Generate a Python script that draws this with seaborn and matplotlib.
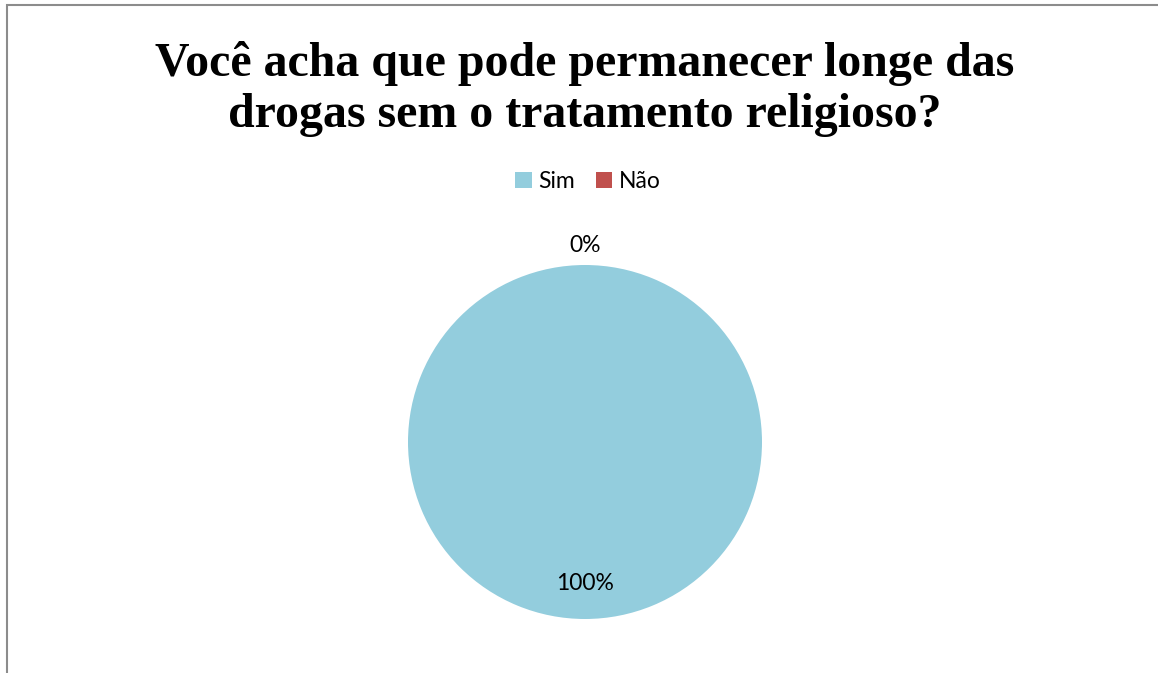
import numpy as np
import matplotlib
matplotlib.use("Agg")
import matplotlib.pyplot as plt
import seaborn as sns
from matplotlib.patches import Rectangle

# data
categories = ["Sim", "Não"]
values = [100, 0]
pct_labels = ["100%", "0%"]
colors = ["#93CDDD", "#C0504D"]
title = "Você acha que pode permanecer longe das\ndrogas sem o tratamento religioso?"

sns.set_theme(style="white")
plt.rcParams["font.family"] = ["Liberation Sans", "DejaVu Sans"]
plt.rcParams["text.color"] = "black"

W, H = 1158, 673
fig = plt.figure(figsize=(W / 100, H / 100), dpi=100)
fig.patch.set_facecolor("white")

# outer chart border (only top and left visible)
fig.patches.append(Rectangle((7 / W, -0.1), 1.2, 1 - 5 / H + 0.1, transform=fig.transFigure,
                             fill=False, edgecolor="#8C8C8C", linewidth=1.5))

cx, cy, r, half = 585, 442, 177, 210
ax = fig.add_axes([(cx - half) / W, (H - cy - half) / H, 2 * half / W, 2 * half / H])
wedges, _ = ax.pie(values, colors=colors, startangle=90, counterclock=False,
                   radius=1.0, wedgeprops={"linewidth": 0})
lim = half / r
ax.set_xlim(-lim, lim)
ax.set_ylim(-lim, lim)
ax.set_aspect("equal")
ax.axis("off")

# data labels placed at each slice's mid-angle
total = sum(values)
start = 90
for v, lab in zip(values, pct_labels):
    sweep = 360 * v / total
    mid = np.deg2rad(start - sweep / 2)
    dist = 0.80 if v > 0 else 1.11
    ax.text(dist * np.cos(mid), dist * np.sin(mid), lab, ha="center", va="center",
            fontsize=16.5, color="black", family=["Lato", "DejaVu Sans"], clip_on=False)
    start -= sweep

fig.text(585 / W, 1 - 89 / H, title, ha="center", va="center", fontsize=34.5, color="black",
         fontweight="bold", family=["Liberation Serif", "DejaVu Serif"], linespacing=1.2)

fig.legend(wedges, categories, loc="center", bbox_to_anchor=(588 / W, 1 - 182 / H), ncol=2,
           frameon=False, handlelength=0.7, handleheight=0.7, handletextpad=0.3,
           columnspacing=0.9, labelcolor="black",
           prop={"family": ["Lato", "DejaVu Sans"], "size": 16.5})

fig.savefig("out.png", dpi=100, facecolor="white")
